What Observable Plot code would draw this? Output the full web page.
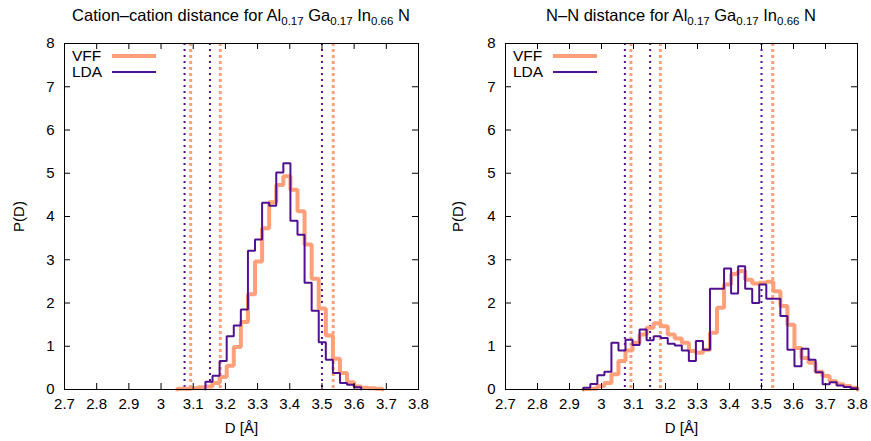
<!DOCTYPE html>
<html>
<head>
<meta charset="utf-8">
<script src="https://cdn.jsdelivr.net/npm/d3@7"></script>
<script src="https://cdn.jsdelivr.net/npm/@observablehq/plot@0.6"></script>
<style>
  html, body { margin: 0; padding: 0; background: #fff; }
  #wrap { position: relative; width: 871px; height: 441px; font-family: 'Liberation Sans', Arial, Helvetica, sans-serif; color: #000; }
  .panel { position: absolute; top: 0; }
  .title { position: absolute; top: 6px; font-size: 16.5px; text-align: center; white-space: nowrap; }
  .title .s { font-size: 11.5px; position: relative; top: 4px; }
  .leg { position: absolute; font-size: 15.5px; line-height: 16px; }
  .legline { position: absolute; height: 0; }
</style>
</head>
<body>
<div id="wrap"></div>
<script>
// ---------- data ----------
const xTicks = [2.7, 2.8, 2.9, 3.0, 3.1, 3.2, 3.3, 3.4, 3.5, 3.6, 3.7, 3.8];
const xTickLabels = ["2.7", "2.8", "2.9", "3", "3.1", "3.2", "3.3", "3.4", "3.5", "3.6", "3.7", "3.8"];
const yTicks = [0, 1, 2, 3, 4, 5, 6, 7, 8];
const yTickLabels = ["0", "1", "2", "3", "4", "5", "6", "7", "8"];
const seriesNames = ["VFF", "LDA"];
const xLabel = "D [Å]";
const yLabel = "P(D)";

// reference lattice distances (dotted vertical lines)
const ldaRefLines = [3.073, 3.152, 3.500];
const vffRefLines = [3.092, 3.184, 3.535];

// Left panel: cation-cation histogram (bin edges, values per bin)
const cationEdges = [3.050, 3.072, 3.094, 3.116, 3.138, 3.160, 3.182, 3.204, 3.226, 3.248,
  3.270, 3.292, 3.314, 3.336, 3.358, 3.380, 3.402, 3.424, 3.446, 3.468,
  3.490, 3.512, 3.534, 3.556, 3.578, 3.600, 3.622, 3.644, 3.666, 3.688];
const cationVFF = [0.02, 0.02, 0.03, 0.05, 0.07, 0.15, 0.29, 0.55, 0.98, 1.56,
  2.20, 2.96, 3.73, 4.33, 4.73, 4.93, 4.62, 4.12, 3.35, 2.56,
  1.87, 1.25, 0.71, 0.38, 0.17, 0.07, 0.04, 0.03, 0.02];
const cationLDA = [0, 0, 0, 0, 0.18, 0.32, 0.66, 1.23, 1.48, 1.85,
  3.21, 3.47, 4.32, 4.25, 5.02, 5.23, 3.90, 3.58, 2.47, 1.82,
  1.09, 0.69, 0.38, 0.15, 0.11, 0.05, 0, 0, 0];

// Right panel: N-N histogram
const nnEdges = [2.943, 2.965, 2.987, 3.009, 3.031, 3.053, 3.075, 3.097, 3.119, 3.141,
  3.163, 3.185, 3.207, 3.229, 3.251, 3.273, 3.295, 3.317, 3.339, 3.361,
  3.383, 3.405, 3.427, 3.449, 3.471, 3.493, 3.515, 3.537, 3.559, 3.581,
  3.603, 3.625, 3.647, 3.669, 3.691, 3.713, 3.735, 3.757, 3.779, 3.800];
const nnVFF = [0.01, 0.02, 0.08, 0.15, 0.35, 0.66, 0.90, 1.08, 1.27, 1.43,
  1.53, 1.46, 1.27, 1.18, 1.08, 0.89, 0.85, 0.92, 1.31, 1.89,
  2.43, 2.67, 2.74, 2.54, 2.45, 2.47, 2.49, 2.27, 1.93, 1.50,
  0.96, 0.73, 0.62, 0.41, 0.31, 0.19, 0.12, 0.08, 0.04];
const nnLDA = [0.04, 0.13, 0.33, 0.41, 1.08, 0.90, 1.15, 1.03, 1.39, 1.14,
  1.23, 1.19, 1.06, 1.02, 0.90, 0.66, 1.12, 0.92, 2.33, 2.33,
  2.80, 2.22, 2.85, 2.33, 2.00, 2.43, 2.10, 2.10, 1.70, 0.92,
  0.54, 0.94, 0.69, 0.40, 0.12, 0.17, 0.09, 0.06, 0.03];

// ---------- styles ----------
const VFF_COLOR = "#ffa07a";
const LDA_COLOR = "#50108f";
const FONT = "'Liberation Sans', Arial, Helvetica, sans-serif";

// histogram -> step points (only over nonzero range, dropping to 0 at both ends)
function stepPoints(edges, values) {
  let first = values.findIndex(v => v > 0);
  let last = values.length - 1;
  while (last >= 0 && !(values[last] > 0)) last--;
  const pts = [{x: edges[first], y: 0}];
  for (let i = first; i <= last; i++) pts.push({x: edges[i], y: values[i]});
  pts.push({x: edges[last + 1], y: 0});
  return pts;
}

function panel({edges, vff, lda, width, marginLeft, marginRight, labelOffset}) {
  const height = 441, marginTop = 43, marginBottom = 52;
  const ph = height - marginTop - marginBottom;
  const pw = width - marginLeft - marginRight;
  const tick = 6;
  return Plot.plot({
    width, height, marginLeft, marginRight, marginTop, marginBottom,
    style: {fontFamily: FONT, fontSize: "15px", color: "#000", background: "transparent", overflow: "visible"},
    x: {domain: [2.7, 3.8], ticks: xTicks, tickSize: 0, tickPadding: 9,
        tickFormat: d => xTickLabels[xTicks.findIndex(t => Math.abs(t - d) < 1e-9)], label: null},
    y: {domain: [0, 8], ticks: yTicks, tickSize: 0, tickPadding: 10,
        tickFormat: d => yTickLabels[yTicks.indexOf(d)], label: null},
    marks: [
      Plot.ruleX(ldaRefLines, {x: d => d, stroke: LDA_COLOR, strokeWidth: 2, strokeDasharray: "2,4"}),
      Plot.ruleX(vffRefLines, {x: d => d, stroke: VFF_COLOR, strokeWidth: 3, strokeDasharray: "3,3"}),
      Plot.line(stepPoints(edges, vff), {x: "x", y: "y", curve: "step-after", stroke: VFF_COLOR, strokeWidth: 4, strokeLinejoin: "miter"}),
      Plot.line(stepPoints(edges, lda), {x: "x", y: "y", curve: "step-after", stroke: LDA_COLOR, strokeWidth: 2, strokeLinejoin: "miter"}),
      // inward ticks on all four sides
      Plot.ruleX(xTicks, {x: d => d, insetTop: ph - tick, stroke: "#000"}),
      Plot.ruleX(xTicks, {x: d => d, insetBottom: ph - tick, stroke: "#000"}),
      Plot.ruleY(yTicks, {y: d => d, insetRight: pw - tick, stroke: "#000"}),
      Plot.ruleY(yTicks, {y: d => d, insetLeft: pw - tick, stroke: "#000"}),
      Plot.frame({stroke: "#000", strokeWidth: 1}),
      Plot.text([xLabel], {text: d => d, frameAnchor: "bottom", textAnchor: "middle", lineAnchor: "middle", dy: 39}),
      Plot.text([yLabel], {text: d => d, frameAnchor: "left", textAnchor: "middle", lineAnchor: "middle", rotate: -90, dx: -labelOffset})
    ]
  });
}

const wrap = document.getElementById("wrap");

function addPanel(left, chart) {
  const d = document.createElement("div");
  d.className = "panel";
  d.style.left = left + "px";
  d.appendChild(chart);
  wrap.appendChild(d);
}

addPanel(0, panel({edges: cationEdges, vff: cationVFF, lda: cationLDA, width: 435, marginLeft: 64, marginRight: 17, labelOffset: 45}));
addPanel(435, panel({edges: nnEdges, vff: nnVFF, lda: nnLDA, width: 436, marginLeft: 70, marginRight: 14, labelOffset: 47}));

// titles
function addTitle(left, width, html) {
  const t = document.createElement("div");
  t.className = "title";
  t.style.left = left + "px";
  t.style.width = width + "px";
  t.innerHTML = html;
  wrap.appendChild(t);
}
const comp = 'Al<span class="s">0.17</span> Ga<span class="s">0.17</span> In<span class="s">0.66</span> N';
addTitle(64, 354, "Cation–cation distance for " + comp);
addTitle(505, 352, "N–N distance for " + comp);

// legends
function addLegend(frameLeft) {
  const colors = [VFF_COLOR, LDA_COLOR];
  const widths = [4, 2];
  const ys = [56, 72];
  seriesNames.forEach((name, i) => {
    const t = document.createElement("div");
    t.className = "leg";
    t.textContent = name;
    t.style.left = (frameLeft + 8) + "px";
    t.style.top = (ys[i] - 8) + "px";
    wrap.appendChild(t);
    const l = document.createElement("div");
    l.className = "legline";
    l.style.left = (frameLeft + 48) + "px";
    l.style.width = "44px";
    l.style.top = (ys[i] - widths[i] / 2) + "px";
    l.style.borderTop = widths[i] + "px solid " + colors[i];
    wrap.appendChild(l);
  });
}
addLegend(64);
addLegend(505);
</script>
</body>
</html>
